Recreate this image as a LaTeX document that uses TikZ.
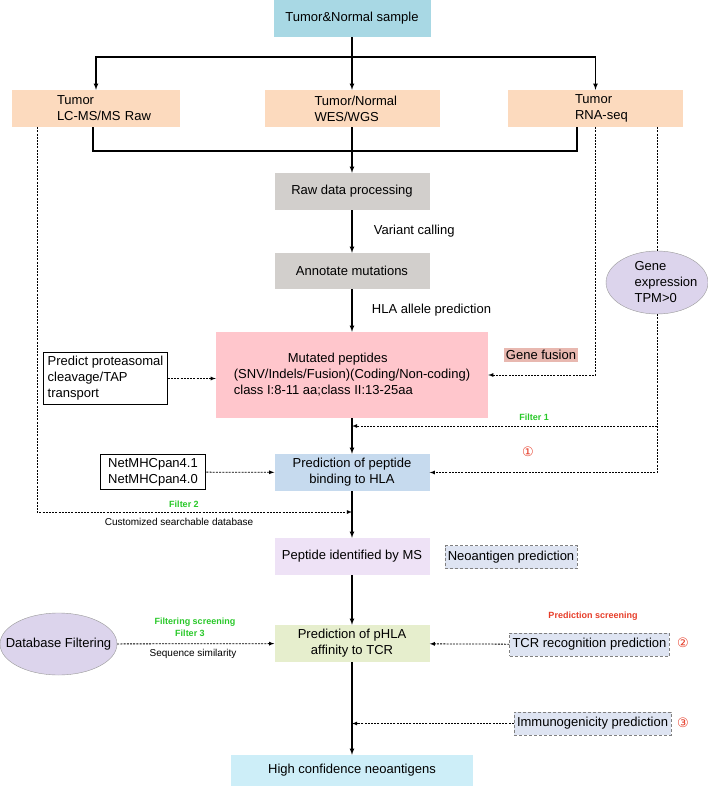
\documentclass[tikz,border=0pt]{standalone}
\usepackage{fontspec}
\setmainfont{Liberation Sans}
\newfontfamily\circfont{DejaVu Sans}
\usepackage{tikz}
\usetikzlibrary{arrows,positioning,shapes.geometric}
\definecolor{samplefill}{RGB}{168,216,228}
\definecolor{peach}{RGB}{252,218,190}
\definecolor{rawgray}{RGB}{210,207,204}
\definecolor{mutpink}{RGB}{255,198,204}
\definecolor{fusionfill}{RGB}{232,184,176}
\definecolor{ovalfill}{RGB}{220,212,236}
\definecolor{bindblue}{RGB}{198,218,238}
\definecolor{mslav}{RGB}{238,226,246}
\definecolor{predfill}{RGB}{222,228,242}
\definecolor{phlagreen}{RGB}{230,238,205}
\definecolor{highcyan}{RGB}{205,238,248}
\definecolor{filtgreen}{RGB}{40,200,40}
\definecolor{scrred}{RGB}{230,60,40}

\begin{document}
\begin{tikzpicture}[x=1pt,y=-1pt,
  every node/.style={font=\fontsize{13}{16}\selectfont},
  box/.style={minimum width=155pt,minimum height=37pt,inner sep=2pt,align=center},
  srcbox/.style={fill=peach,minimum height=37pt,inner ysep=2pt,align=left},
  toolbox/.style={draw,line width=1pt,fill=white,inner sep=4pt,align=left},
  predbox/.style={draw=gray,dash pattern=on 3pt off 2pt,fill=predfill,minimum height=23pt,inner sep=3pt},
  oval/.style={ellipse,draw=gray!80,fill=ovalfill,inner sep=0pt},
  small/.style={font=\fontsize{10}{12}\selectfont},
  filt/.style={font=\bfseries\fontsize{9}{11}\selectfont,text=filtgreen},
  scr/.style={font=\bfseries\fontsize{9}{11}\selectfont,text=scrred},
  num/.style={font=\circfont\fontsize{13}{15}\selectfont,text=scrred},
  flow/.style={line width=1.1pt,-latex},
  dline/.style={line width=0.8pt,dash pattern=on 2pt off 1.2pt},
  dflow/.style={dline,-latex}]
\useasboundingbox (0,0) rectangle (708,786);
\node[box,fill=samplefill,minimum width=157pt] (sample) at (352,18.5) {Tumor\&Normal sample};
\node[srcbox,inner xsep=45pt,text width=78pt] (lcms) at (96,108.5) {Tumor\\\mbox{LC-MS/MS Raw}};
\node[srcbox,inner xsep=50pt,text width=75pt] (wes) at (352,108.5) {\mbox{Tumor/Normal}\\WES/WGS};
\node[srcbox,inner xsep=67pt,text width=41pt] (rna) at (595.5,108.5) {Tumor\\\mbox{RNA-seq}};
\node[box,fill=rawgray] (raw) at (352,191.5) {Raw data processing};
\node[box,fill=rawgray,minimum height=36pt] (annot) at (352,271) {Annotate mutations};
\node[box,fill=mutpink,minimum width=272pt,minimum height=86pt,align=left] (mut) at (352,375) {\hspace*{54pt}Mutated peptides\\(SNV/Indels/Fusion)(Coding/Non-coding)\\class I:8-11 aa;class II:13-25aa};
\node[toolbox] (cleave) at (105.5,378.5) {Predict proteasomal\\cleavage/TAP\\transport};
\node[fill=fusionfill,inner sep=2pt] (fusion) at (541,355) {Gene fusion};
\node[oval,minimum width=102pt,minimum height=63pt] (gexp) at (657,282.5) {};
\node[align=left] (gexptext) at ([xshift=9pt]gexp.center) {Gene\\expression\\TPM>0};
\node[box,fill=bindblue] (bind) at (352,472.5) {Prediction of peptide\\binding to HLA};
\node[toolbox,align=center,inner xsep=8pt] (netmhc) at (153,472) {NetMHCpan4.1\\NetMHCpan4.0};
\node[box,fill=mslav] (msid) at (352,556.5) {Peptide identified by MS};
\node[predbox] (neo) at (511,557) {Neoantigen prediction};
\node[box,fill=phlagreen] (phla) at (352,643.5) {Prediction of pHLA\\affinity to TCR};
\node[oval,minimum width=117pt,minimum height=62pt] (dbf) at (58.5,644) {};
\node (dbftext) at (dbf) {Database Filtering};
\node[predbox] (tcr) at (589.5,644.5) {TCR recognition prediction};
\node[predbox] (immuno) at (592.5,723.5) {Immunogenicity prediction};
\node[box,fill=highcyan,minimum width=242pt,minimum height=31pt] (high) at (352,770.5) {High confidence neoantigens};
\node[filt] (f1) at (534,417) {Filter 1};
\node[num] (n1) at (528,452) {①};
\node[filt] (f2) at (184,504) {Filter 2};
\node[small] (custdb) at (179,522) {Customized searchable database};
\node[scr] (pscr) at (593,616) {Prediction screening};
\node[filt] (fscr) at (195,622) {Filtering screening};
\node[filt] (f3) at (190,633) {Filter 3};
\node[small] (seqsim) at (193,654) {Sequence similarity};
\node[num] (n2) at (683,643) {②};
\node[num] (n3) at (683,723) {③};
\coordinate (split) at (352,57);
\coordinate (merge) at (352,151);
\coordinate (f1end) at (352,426);
\coordinate (f2end) at (352,512);
\coordinate (imend) at (352,723.5);
\draw[flow] (sample) -- (wes);
\draw[flow] (split) -| (lcms);
\draw[flow] (split) -| (rna);
\draw[line width=1.1pt] ([xshift=-3pt]lcms.south) |- (merge) -| ([xshift=-18.5pt]rna.south);
\draw[flow] (wes) -- (raw);
\draw[flow] (raw) -- node[right=18pt] {Variant calling} (annot);
\draw[flow] (annot) -- node[right=16pt] {HLA allele prediction} (mut);
\draw[dflow] (cleave.east) -- (cleave.east -| mut.west);
\draw[dflow] (rna) |- (mut.east);
\draw[dline] (gexp.north |- rna.south) -- (gexp);
\draw[dflow] (gexp) |- (bind);
\draw[dflow] (gexp.south |- f1end) -- (f1end);
\draw[flow] (mut) -- (bind);
\draw[dflow] (netmhc) -- (bind);
\draw[dflow] ([xshift=-59pt]lcms.south) |- (f2end);
\draw[flow] (bind) -- (msid);
\draw[flow] (msid) -- (phla);
\draw[dflow] (dbf) -- (phla);
\draw[dflow] (tcr) -- (phla);
\draw[flow] (phla) -- (high);
\draw[dflow] (immuno) -- (imend);
\end{tikzpicture}
\end{document}
